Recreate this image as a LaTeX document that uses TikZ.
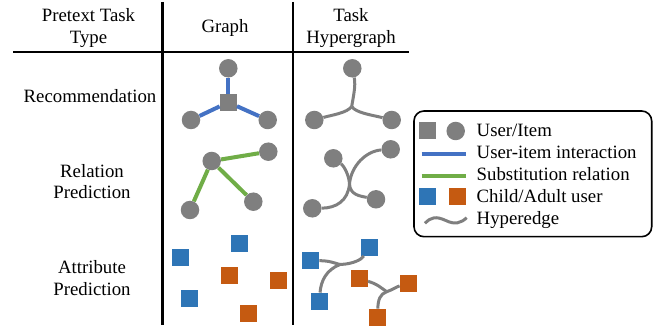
\documentclass[tikz,border=0pt]{standalone}
\usepackage{fontspec}
\setmainfont{Liberation Serif}
\definecolor{ngray}{HTML}{7F7F7F}
\definecolor{lblue}{HTML}{4472C4}
\definecolor{lgreen}{HTML}{70AD47}
\definecolor{sblue}{HTML}{2E75B6}
\definecolor{sorange}{HTML}{C55A11}
\tikzset{
  item/.style={circle, fill=ngray, inner sep=0pt, minimum size=18.5pt},
  user/.style={rectangle, fill=ngray, inner sep=0pt, minimum size=17pt},
  child/.style={rectangle, fill=sblue, inner sep=0pt, minimum size=17pt},
  adult/.style={rectangle, fill=sorange, inner sep=0pt, minimum size=17pt},
  interact/.style={draw=lblue, line width=4pt},
  subst/.style={draw=lgreen, line width=4pt},
  hyper/.style={draw=ngray, line width=3pt},
  rulebar/.style={draw=black, line width=2.8pt},
  lbl/.style={inner sep=0pt, align=center, font=\fontsize{18.8}{21.6}\selectfont},
  legtext/.style={inner sep=0pt, anchor=base west, font=\fontsize{18.8}{21.6}\selectfont},
  legbox/.style={draw=black, line width=1.6pt, rounded corners=10pt}
}
\begin{document}
\begin{tikzpicture}[x=1pt, y=-1pt]
\useasboundingbox (0,0) rectangle (670,331);

% table rules
\coordinate (hl) at (13,52);
\coordinate (hr) at (409,52);
\coordinate (v1t) at (162.5,2);
\coordinate (v1b) at (162.5,325);
\coordinate (v2t) at (293,2);
\coordinate (v2b) at (293,325);
\draw[rulebar] (hl) -- (hr);
\draw[rulebar] (v1t) -- (v1b);
\draw[rulebar] (v2t) -- (v2b);

% headers
\node[lbl] (hType) at (88.5,28.1) {Pretext Task\\Type};
\node[lbl, anchor=base] (hGraph) at (225,33) {Graph};
\node[lbl] (hHyper) at (351,27.8) {Task\\Hypergraph};

% row labels
\node[lbl, anchor=base] (rRec) at (90,103) {Recommendation};
\node[lbl] (rRel) at (92,181.6) {Relation\\Prediction};
\node[lbl] (rAttr) at (92,278.3) {Attribute\\Prediction};

% Row 1: graph
\node[item] (g1t) at (228.3,68.3) {};
\node[user] (g1s) at (228.3,102.3) {};
\node[item] (g1l) at (191,120) {};
\node[item] (g1r) at (267.7,120) {};
\draw[interact] (g1s) -- (g1t);
\draw[interact] (g1s) -- (g1l);
\draw[interact] (g1s) -- (g1r);

% Row 1: hypergraph
\node[item] (h1t) at (352.3,68.3) {};
\node[item] (h1l) at (314.3,120) {};
\node[item] (h1r) at (391.7,120) {};
\coordinate (h1j) at (351.7,106.5);
\draw[hyper] (h1t) .. controls (356,86) and (353,98) .. (h1j);
\draw[hyper] (h1j) .. controls (347,113) and (332,115) .. (h1l);
\draw[hyper] (h1j) .. controls (356,113) and (372,115) .. (h1r);

% Row 2: graph
\node[item] (g2c) at (211.7,161) {};
\node[item] (g2a) at (268.3,151.7) {};
\node[item] (g2b) at (190,210) {};
\node[item] (g2d) at (253.3,201.7) {};
\draw[subst] (g2c) -- (g2a);
\draw[subst] (g2c) -- (g2b);
\draw[subst] (g2c) -- (g2d);

% Row 2: hypergraph
\node[item] (h2a) at (333.3,158.3) {};
\node[item] (h2b) at (390.7,149.3) {};
\node[item] (h2c) at (376,199.3) {};
\node[item] (h2d) at (312.3,208.3) {};
\coordinate (h2j) at (349.5,184);
\draw[hyper] (h2a) .. controls (344,166) and (349,175) .. (h2j) .. controls (350,195) and (360,196) .. (h2c);
\draw[hyper] (h2b) .. controls (366,151) and (351,166) .. (h2j) .. controls (348,201) and (336,208) .. (h2d);

% Row 3: graph
\node[child] (g3b1) at (180.7,257.3) {};
\node[child] (g3b2) at (239.3,243.3) {};
\node[child] (g3b3) at (189.3,298.3) {};
\node[adult] (g3o1) at (229.3,275.3) {};
\node[adult] (g3o2) at (278.3,280.3) {};
\node[adult] (g3o3) at (248.3,313.3) {};

% Row 3: hypergraph
\node[child] (h3b1) at (310.7,260.3) {};
\node[child] (h3b2) at (369.3,247.3) {};
\node[child] (h3b3) at (319.3,301.3) {};
\node[adult] (h3o1) at (359.3,278.3) {};
\node[adult] (h3o2) at (408.3,283.3) {};
\node[adult] (h3o3) at (377.7,317.3) {};
\coordinate (h3jb) at (340,264.5);
\coordinate (h3jo) at (386.7,291.7);
\draw[hyper] (h3b1) .. controls (328,261) .. (h3jb);
\draw[hyper] (h3jb) .. controls (354,264) and (362,259) .. (h3b2);
\draw[hyper] (h3jb) .. controls (326,270) and (321,281) .. (h3b3);
\draw[hyper] (h3o1) .. controls (376,284) .. (h3jo);
\draw[hyper] (h3jo) .. controls (392,290) and (396,287) .. (h3o2);
\draw[hyper] (h3jo) .. controls (380,294) and (378,300) .. (h3o3);

% Legend
\node[legbox, minimum width=237.7pt, minimum height=125.7pt, inner sep=0pt] (leg) at (532.85,173.85) {};
\node[user] (lsq) at (427.3,131) {};
\node[item] (lci) at (455.7,131) {};
\coordinate (lb1) at (421.7,154);
\coordinate (lb2) at (466,154);
\draw[interact] (lb1) -- (lb2);
\coordinate (lg1) at (421.7,175.7);
\coordinate (lg2) at (466,175.7);
\draw[subst] (lg1) -- (lg2);
\node[child] (lch) at (427.3,196.7) {};
\node[adult] (lad) at (457.3,196.7) {};
\coordinate (lw1) at (425,223.3);
\coordinate (lw2) at (445.8,220.5);
\coordinate (lw3) at (466.7,217.7);
\draw[hyper] (lw1) .. controls (431,217) and (436,216) .. (lw2) .. controls (455,225) and (461,223) .. (lw3);
\node[legtext] (t1) at (476.5,136.3) {User/Item};
\node[legtext] (t2) at (476.5,158.3) {User-item interaction};
\node[legtext] (t3) at (476.5,180.3) {Substitution relation};
\node[legtext] (t4) at (476.5,202.2) {Child/Adult user};
\node[legtext] (t5) at (476.5,224.2) {Hyperedge};
\end{tikzpicture}
\end{document}
